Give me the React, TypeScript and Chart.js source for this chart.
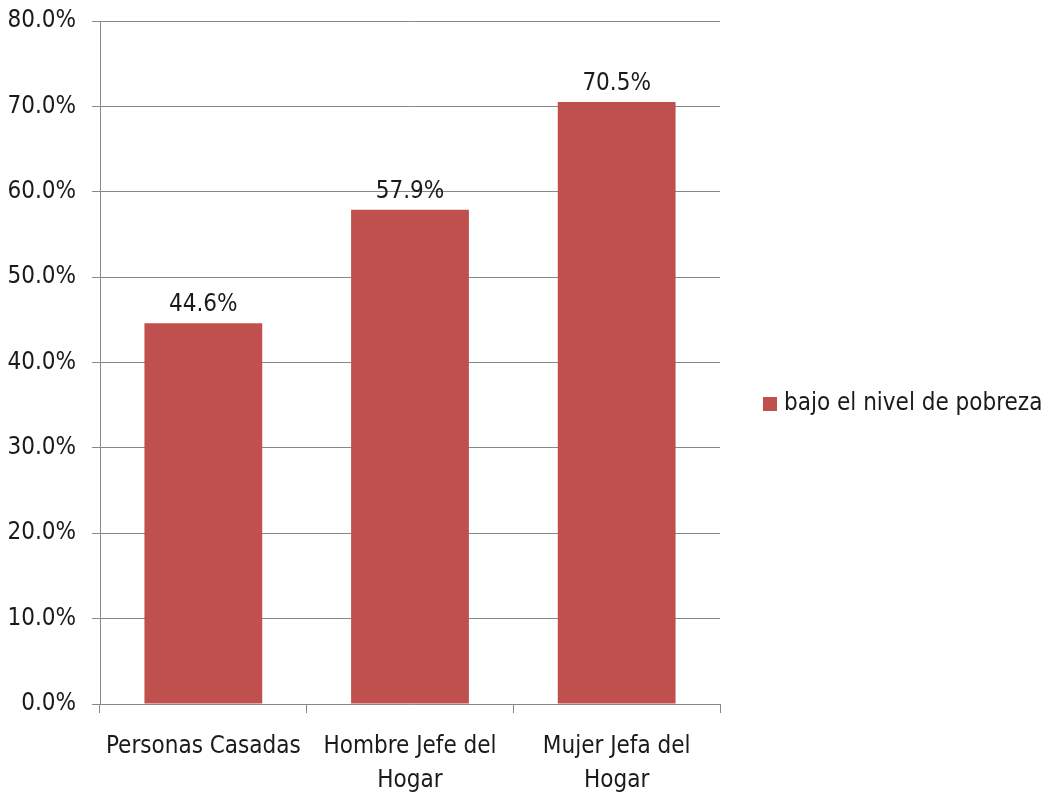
import React, { useEffect, useRef } from "react";
import { Chart, registerables } from "chart.js";

Chart.register(...registerables);

const categories: string[][] = [["Personas Casadas"], ["Hombre Jefe del", "Hogar"], ["Mujer Jefa del", "Hogar"]];
const seriesName = "bajo el nivel de pobreza";
const values: number[] = [44.6, 57.9, 70.5];
const yMin = 0;
const yMax = 80;
const yStep = 10;

const FONT = "'Liberation Sans Narrow', 'DejaVu Sans Condensed', sans-serif";
const BAR = "#C0504D";
const TEXT = "#1a1a1a";
const GRID = "#888888";
const FS = 24;

const valueLabels = {
  id: "valueLabels",
  afterDatasetsDraw(chart: any) {
    const ctx = chart.ctx;
    const meta = chart.getDatasetMeta(0);
    ctx.save();
    ctx.font = `${FS}px ${FONT}`;
    ctx.fillStyle = TEXT;
    ctx.textAlign = "center";
    ctx.textBaseline = "bottom";
    meta.data.forEach((bar: any, i: number) => {
      ctx.fillText(values[i].toFixed(1) + "%", bar.x, bar.y - 6);
    });
    ctx.restore();
  },
};

const sideLegend = {
  id: "sideLegend",
  afterDraw(chart: any) {
    const ctx = chart.ctx;
    const area = chart.chartArea;
    const cy = 404;
    const x0 = area.right + 43;
    ctx.save();
    ctx.fillStyle = BAR;
    ctx.fillRect(x0, cy - 7, 14, 14);
    ctx.font = `${FS}px ${FONT}`;
    ctx.fillStyle = TEXT;
    ctx.textAlign = "left";
    ctx.textBaseline = "middle";
    ctx.fillText(seriesName, x0 + 21, cy);
    ctx.restore();
  },
};

export default function App() {
  const ref = useRef<HTMLCanvasElement>(null);
  useEffect(() => {
    document.body.style.margin = "0";
    const chart = new Chart(ref.current!, {
      type: "bar",
      data: {
        labels: categories,
        datasets: [
          {
            label: seriesName,
            data: values,
            backgroundColor: BAR,
            categoryPercentage: 0.57,
            barPercentage: 1,
          },
        ],
      },
      options: {
        animation: false,
        responsive: false,
        devicePixelRatio: 1,
        layout: { padding: { top: 21, right: 327, left: 0, bottom: 0 } },
        plugins: { legend: { display: false }, tooltip: { enabled: false } },
        scales: {
          x: {
            offset: true,
            grid: { display: true, drawOnChartArea: false, drawTicks: true, tickLength: 9, color: GRID, offset: true },
            border: { display: true, color: GRID, width: 1 },
            ticks: { color: TEXT, font: { family: FONT, size: FS, lineHeight: 1.45 }, padding: 16, maxRotation: 0, autoSkip: false },
            afterFit: (s: any) => { s.height = 94; s.paddingLeft = 0; s.paddingRight = 0; },
          },
          y: {
            min: yMin,
            max: yMax,
            grid: { color: GRID, tickLength: 8, drawTicks: true },
            border: { display: true, color: GRID, width: 1 },
            ticks: {
              stepSize: yStep,
              color: TEXT,
              padding: 16,
              font: { family: FONT, size: FS },
              callback: (v: any) => Number(v).toFixed(1) + "%",
            },
            afterFit: (s: any) => { s.width = 100; s.paddingTop = 0; s.paddingBottom = 0; },
          },
        },
      },
      plugins: [valueLabels, sideLegend],
    });
    return () => chart.destroy();
  }, []);
  return (
    <div style={{ width: 1047, height: 798, background: "#fff" }}>
      <canvas ref={ref} width={1047} height={798} style={{ display: "block" }} />
    </div>
  );
}
